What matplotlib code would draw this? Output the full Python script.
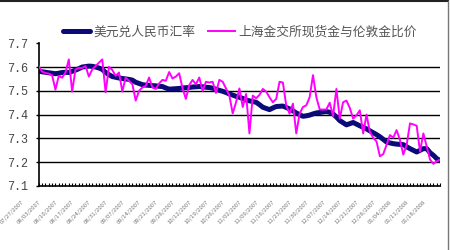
import numpy as np
import matplotlib
matplotlib.use('Agg')
import matplotlib.pyplot as plt
import matplotlib.transforms as mtransforms
from matplotlib.lines import Line2D

plt.rcParams['font.family'] = ['Noto Sans CJK SC', 'DejaVu Sans']

# weekly tick labels (every 5th trading day)
date_labels = ['07/27/2007', '08/03/2007', '08/10/2007', '08/17/2007', '08/24/2007',
               '08/31/2007', '09/07/2007', '09/14/2007', '09/21/2007', '09/28/2007',
               '10/12/2007', '10/19/2007', '10/26/2007', '11/02/2007', '11/09/2007',
               '11/16/2007', '11/23/2007', '11/30/2007', '12/07/2007', '12/14/2007',
               '12/21/2007', '12/28/2007', '01/04/2008', '01/11/2008', '01/18/2008']

usd_cny = [7.583, 7.580, 7.578, 7.576, 7.574, 7.572, 7.574, 7.577, 7.578, 7.577,
           7.582, 7.587, 7.593, 7.600, 7.602, 7.604, 7.603, 7.600, 7.596, 7.590,
           7.577, 7.568, 7.560, 7.557, 7.554, 7.552, 7.550, 7.548, 7.545, 7.536,
           7.531, 7.526, 7.524, 7.523, 7.522, 7.521, 7.519, 7.518, 7.512, 7.507,
           7.508, 7.509, 7.510, 7.512, 7.513, 7.514, 7.516, 7.517, 7.518, 7.517,
           7.515, 7.514, 7.511, 7.507, 7.502, 7.498, 7.493, 7.487, 7.482, 7.477,
           7.473, 7.468, 7.461, 7.458, 7.455, 7.452, 7.442, 7.431, 7.426, 7.421,
           7.428, 7.434, 7.435, 7.436, 7.430, 7.424, 7.416, 7.407, 7.400, 7.393,
           7.395, 7.398, 7.403, 7.407, 7.409, 7.411, 7.413, 7.410, 7.403, 7.390,
           7.375, 7.366, 7.357, 7.362, 7.367, 7.360, 7.353, 7.347, 7.340, 7.332,
           7.324, 7.316, 7.307, 7.296, 7.285, 7.281, 7.278, 7.276, 7.275, 7.274,
           7.265, 7.257, 7.250, 7.243, 7.250, 7.257, 7.257, 7.240, 7.229, 7.215,
           7.207]

gold_ratio = [7.604, 7.581, 7.575, 7.572, 7.566, 7.505, 7.563, 7.555, 7.577, 7.632,
              7.497, 7.590, 7.596, 7.596, 7.604, 7.560, 7.590, 7.604, 7.618, 7.632,
              7.494, 7.601, 7.588, 7.563, 7.577, 7.497, 7.556, 7.542, 7.528, 7.459,
              7.500, 7.514, 7.521, 7.556, 7.514, 7.508, 7.531, 7.546, 7.542, 7.579,
              7.552, 7.560, 7.574, 7.510, 7.466, 7.524, 7.546, 7.528, 7.556, 7.500,
              7.538, 7.535, 7.538, 7.491, 7.546, 7.538, 7.510, 7.480, 7.405, 7.452,
              7.510, 7.432, 7.487, 7.321, 7.480, 7.469, 7.483, 7.508, 7.497, 7.473,
              7.452, 7.466, 7.538, 7.535, 7.439, 7.404, 7.446, 7.321, 7.404, 7.432,
              7.439, 7.473, 7.566, 7.473, 7.422, 7.421, 7.422, 7.450, 7.394, 7.508,
              7.383, 7.452, 7.459, 7.428, 7.383, 7.397, 7.418, 7.321, 7.400, 7.328,
              7.303, 7.287, 7.225, 7.234, 7.273, 7.314, 7.303, 7.335, 7.294, 7.232,
              7.273, 7.363, 7.359, 7.353, 7.245, 7.321, 7.266, 7.211, 7.193, 7.204,
              7.211]

yticks = [7.1, 7.2, 7.3, 7.4, 7.5, 7.6, 7.7]

x = np.arange(len(usd_cny))

fig = plt.figure(figsize=(4.5, 2.5), dpi=100)
ax = fig.add_axes([0.086, 0.256, 0.892, 0.571])

for v in yticks[1:-1]:
    ax.axhline(v, color='black', lw=1.0, zorder=1)

l1, = ax.plot(x, usd_cny, color='#0a0a78', lw=3.6, solid_capstyle='round', zorder=2,
              label='美元兑人民币汇率')
l2, = ax.plot(x, gold_ratio, color='#ff00ff', lw=1.4, zorder=3,
              label='上海金交所现货金与伦敦金比价')

ax.set_xlim(0, len(x) - 1)
ax.set_ylim(7.1, 7.7)
ax.set_yticks(yticks)
ax.set_yticklabels(['%.1f' % v for v in yticks], family='Liberation Mono',
                   fontsize=8.5, color='#444444')
ax.tick_params(axis='y', direction='out', length=2, width=1, pad=6)

ax.set_xticks(np.arange(0, len(x), 5))
ax.set_xticks(x, minor=True)
ax.set_xticklabels(date_labels, rotation=45, ha='right', va='top',
                   rotation_mode='anchor', fontsize=4.3, color='#777777')
ax.tick_params(axis='x', which='both', direction='in', length=2, width=0.8, pad=0)
offset = mtransforms.ScaledTranslation(-0.17, -0.13, fig.dpi_scale_trans)
for lab in ax.get_xticklabels():
    lab.set_transform(lab.get_transform() + offset)

for s in ['top', 'right']:
    ax.spines[s].set_visible(False)
ax.spines['left'].set_linewidth(1.2)
ax.spines['bottom'].set_linewidth(1.2)

fig.legend(handles=[l1, l2], loc='center', bbox_to_anchor=(0.533, 0.872), ncol=2,
           frameon=False, fontsize=9.2, handlelength=2.1, handletextpad=0.25,
           columnspacing=1.0, labelcolor='#555555')

# chart frame: top and right edges only
fig.lines.append(Line2D([0, 0.996], [0.996, 0.996], transform=fig.transFigure,
                        color='#222222', lw=1.5))
fig.lines.append(Line2D([0.996, 0.996], [0, 0.996], transform=fig.transFigure,
                        color='#777777', lw=1.0))

plt.savefig('out.png', dpi=100)
